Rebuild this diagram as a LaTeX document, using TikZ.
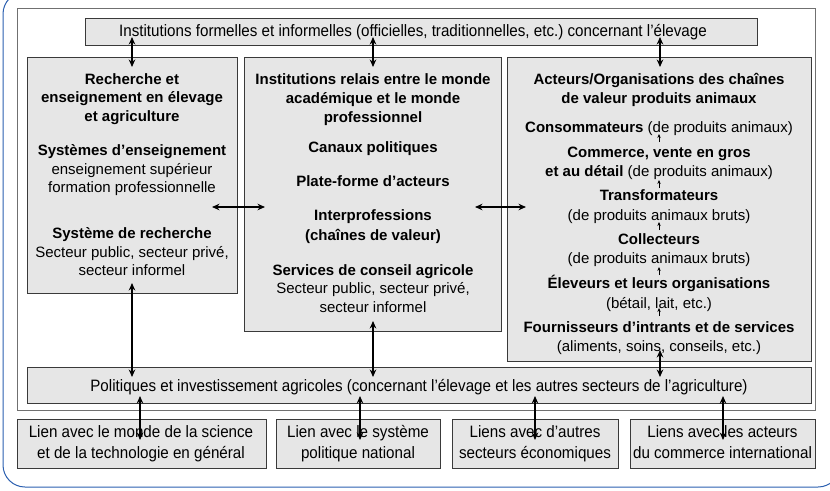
\documentclass[tikz,border=0pt]{standalone}
\usepackage{fontspec}
\setmainfont{Liberation Sans}
\newfontfamily\narrowfont{Liberation Sans}[FakeStretch=0.92]
\usetikzlibrary{arrows.meta}
\definecolor{boxfill}{HTML}{E6E6E6}
\definecolor{boxline}{HTML}{3A3A3A}
\definecolor{frameline}{HTML}{707070}
\definecolor{bluefr}{HTML}{2B5FB0}
\frenchspacing
\begin{document}
\begin{tikzpicture}[x=1pt,y=-1pt,
  box/.style={draw=boxline, fill=boxfill, line width=1.1pt, inner sep=0pt, anchor=north west},
  txt/.style={inner sep=0pt, anchor=base, font=\fontsize{15}{18}\selectfont},
  ntxt/.style={inner sep=0pt, anchor=base, font=\fontsize{16.5}{20}\narrowfont},
  dbl/.style={{Stealth[length=7.5pt,width=6.5pt]}-{Stealth[length=7.5pt,width=6.5pt]}, line width=1.8pt},
  sarr/.style={-{Stealth[length=4pt,width=3.4pt]}, line width=0.6pt}]
\useasboundingbox (0,0) rectangle (830,490);
% blue rounded frame
\begin{scope}
\clip (0,0) rectangle (830,490);
\draw[bluefr, line width=1pt, rounded corners=22pt] (3,-8) rectangle (840,487);
\end{scope}
% outer gray frame
\node[draw=frameline, line width=1.4pt, minimum width=798pt, minimum height=402pt, inner sep=0pt, anchor=north west] (F) at (17,8) {};
% boxes
\node[box, minimum width=672pt, minimum height=27pt] (T) at (85,18) {};
\node[box, minimum width=210pt, minimum height=236pt] (L) at (27,57) {};
\node[box, minimum width=257pt, minimum height=274pt] (M) at (244,57) {};
\node[box, minimum width=304pt, minimum height=304pt] (R) at (507,57) {};
\node[box, minimum width=784pt, minimum height=36pt] (P) at (27,367) {};
\node[box, minimum width=249pt, minimum height=49pt] (B1) at (17,419) {};
\node[box, minimum width=164pt, minimum height=49pt] (B2) at (276,419) {};
\node[box, minimum width=166pt, minimum height=49pt] (B3) at (452,419) {};
\node[box, minimum width=185pt, minimum height=49pt] (B4) at (630,419) {};
% arrow end points
\coordinate (tL) at (132,37);  \coordinate (lT) at (132,67);
\coordinate (tM) at (373,37);  \coordinate (mT) at (373,67);
\coordinate (tR) at (660,37);  \coordinate (rT) at (660,67);
\coordinate (lP) at (132,283); \coordinate (pL) at (132,377);
\coordinate (mP) at (373,321); \coordinate (pM) at (373,377);
\coordinate (rP) at (660,350); \coordinate (pR) at (660,377);
\coordinate (lM) at (212,207); \coordinate (mL) at (265,207);
\coordinate (mR) at (475,207); \coordinate (rM) at (526,207);
\coordinate (p1) at (140,396); \coordinate (b1) at (140,440);
\coordinate (p2) at (360,396); \coordinate (b2) at (360,440);
\coordinate (p3) at (535,396); \coordinate (b3) at (535,440);
\coordinate (p4) at (723,396); \coordinate (b4) at (723,440);
% texts
\node[ntxt] (tt) at (413,36.5) {Institutions formelles et informelles (officielles, traditionnelles, etc.) concernant l’élevage};
\node[ntxt] (pt) at (419,391.5) {Politiques et investissement agricoles (concernant l’élevage et les autres secteurs de l’agriculture)};
\foreach \y/\t [count=\i] in {79/{\bfseries Recherche et},97.5/{\bfseries enseignement en élevage},116/{\bfseries et agriculture},150/{\bfseries Systèmes d’enseignement},169/{enseignement supérieur},187.5/{formation professionnelle},233/{\bfseries Système de recherche},252/{Secteur public, secteur privé,},270.5/{secteur informel}}
  \node[txt] (lt\i) at (132,\y+5.3) {\t};
\foreach \y/\t [count=\i] in {79/{\bfseries Institutions relais entre le monde},98/{\bfseries académique et le monde},117/{\bfseries professionnel},147/{\bfseries Canaux politiques},181/{\bfseries Plate-forme d’acteurs},215/{\bfseries Interprofessions},235/{\bfseries (chaînes de valeur)},270/{\bfseries Services de conseil agricole},288.5/{Secteur public, secteur privé,},307/{secteur informel}}
  \node[txt] (mt\i) at (373,\y+5.3) {\t};
\foreach \y/\t [count=\i] in {79/{\bfseries Acteurs/Organisations des chaînes},98/{\bfseries de valeur produits animaux},127/{\textbf{Consommateurs} (de produits animaux)},152/{\bfseries Commerce, vente en gros},171/{\textbf{et au détail} (de produits animaux)},195/{\bfseries Transformateurs},215/{(de produits animaux bruts)},239/{\bfseries Collecteurs},258/{(de produits animaux bruts)},283/{\bfseries Éleveurs et leurs organisations},303/{(bétail, lait, etc.)},327/{\bfseries Fournisseurs d’intrants et de services},346/{(aliments, soins, conseils, etc.)}}
  \node[txt] (rt\i) at (659,\y+5.3) {\t};
\foreach \x/\a/\b [count=\i] in {141/{Lien avec le monde de la science}/{et de la technologie en général},358/{Lien avec le système}/{politique national},535/{Liens avec d’autres}/{secteurs économiques},722.5/{Liens avec les acteurs}/{du commerce international}}{
  \node[ntxt] (ba\i) at (\x,437.5) {\a};
  \node[ntxt] (bb\i) at (\x,458.5) {\b};
}
% small chain arrows
\coordinate (s1a) at (659,142); \coordinate (s1b) at (659,134);
\coordinate (s2a) at (659,188); \coordinate (s2b) at (659,180);
\coordinate (s3a) at (659,230); \coordinate (s3b) at (659,222);
\coordinate (s4a) at (659,275); \coordinate (s4b) at (659,267);
\coordinate (s5a) at (659,316); \coordinate (s5b) at (659,308);
\foreach \k in {1,...,5} \draw[sarr] (s\k a) -- (s\k b);
% big arrows
\draw[dbl] (tL) -- (lT);
\draw[dbl] (tM) -- (mT);
\draw[dbl] (tR) -- (rT);
\draw[dbl] (lP) -- (pL);
\draw[dbl] (mP) -- (pM);
\draw[dbl] (rP) -- (pR);
\draw[dbl] (lM) -- (mL);
\draw[dbl] (mR) -- (rM);
\draw[dbl] (p1) -- (b1);
\draw[dbl] (p2) -- (b2);
\draw[dbl] (p3) -- (b3);
\draw[dbl] (p4) -- (b4);
\end{tikzpicture}
\end{document}
